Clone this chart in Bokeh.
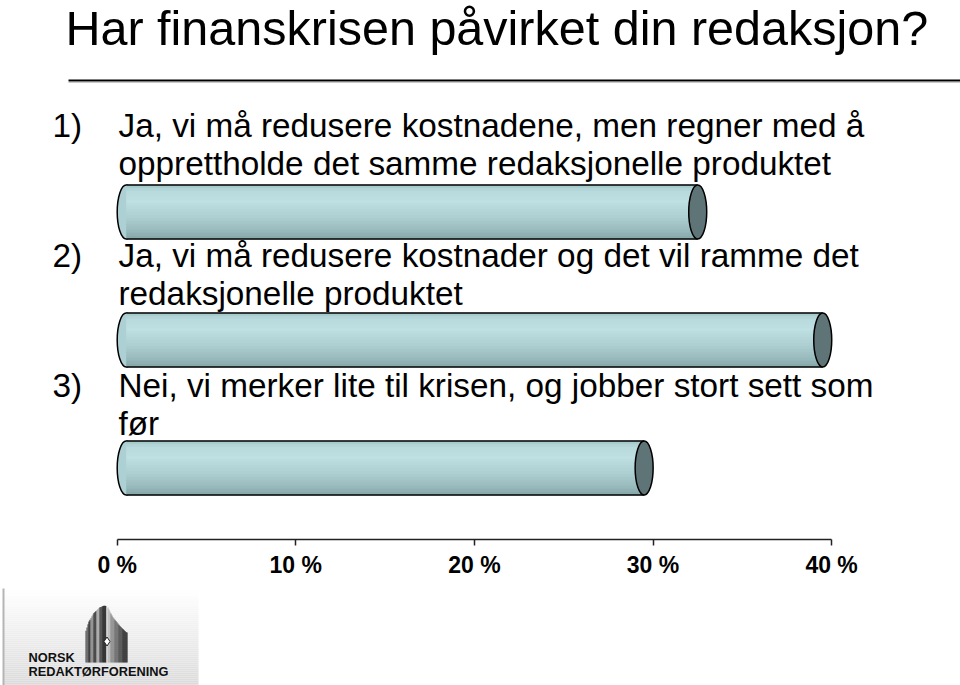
import numpy as np
from bokeh.plotting import figure
from bokeh.models import Range1d, LinearAxis, FixedTicker
from bokeh.layouts import column
from bokeh.core.properties import value
from bokeh.embed import file_html
from bokeh.resources import INLINE

# ---------------- data ----------------
title_text = "Har finanskrisen påvirket din redaksjon?"
numbers = ["1)", "2)", "3)"]
questions = [
    ["Ja, vi må redusere kostnadene, men regner med å",
     "opprettholde det samme redaksjonelle produktet"],
    ["Ja, vi må redusere kostnader og det vil ramme det",
     "redaksjonelle produktet"],
    ["Nei, vi merker lite til krisen, og jobber stort sett som",
     "før"],
]
values = [32, 39, 29]          # percent
tick_values = [0, 10, 20, 30, 40]
tick_labels = ["0 %", "10 %", "20 %", "30 %", "40 %"]
logo_lines = ["NORSK", "REDAKTØRFORENING"]

# ---------------- layout helpers ----------------
FONT = "Liberation Sans"
X0 = 116.7      # pixel of 0 %
PPU = 17.86     # pixels per percent
AXIS_Y = 539
BASE_FIX = 0.39  # baseline correction (fraction of font size)


def px2x(px):
    return (px - X0) / PPU


def by(baseline, size):
    return baseline - BASE_FIX * size


def mix(c1, c2, t):
    a = np.array([int(c1[i:i + 2], 16) for i in (1, 3, 5)], float)
    b = np.array([int(c2[i:i + 2], 16) for i in (1, 3, 5)], float)
    c = a + (b - a) * t
    return "#%02x%02x%02x" % tuple(int(round(v)) for v in c)


p = figure(width=960, height=585, output_backend="svg", toolbar_location=None,
           x_range=Range1d(px2x(0), px2x(960)), y_range=Range1d(AXIS_Y, 0),
           x_axis_type=None, y_axis_type=None,
           min_border_left=0, min_border_right=0, min_border_top=0,
           min_border_bottom=585 - AXIS_Y)
p.outline_line_color = None
p.grid.visible = False
p.background_fill_color = "white"
p.border_fill_color = "white"

# title
TS = 48.5
p.text(x=[px2x(65)], y=[by(46, TS)], text=[title_text], text_font=value(FONT),
       text_font_size=f"{TS}px", text_color="black", text_baseline="alphabetic")
p.segment(x0=[px2x(68)], y0=[80], x1=[px2x(960)], y1=[80],
          line_color="black", line_width=2)
p.segment(x0=[px2x(68)], y0=[82], x1=[px2x(960)], y1=[82],
          line_color="#c8c8c8", line_width=1)

# cylinders
H = 54
CAP_W = 18
shift = 9 / PPU
stops = [(0.0, "#a2c5c8"), (0.12, "#b8dadd"), (0.3, "#bfe0e3"),
         (0.6, "#adcfd2"), (0.85, "#98babc"), (1.0, "#86a6a8")]
NB = 18


def grad(t):
    for (t0, c0), (t1, c1) in zip(stops[:-1], stops[1:]):
        if t0 <= t <= t1:
            return mix(c0, c1, (t - t0) / (t1 - t0))
    return stops[-1][1]


for i, v in enumerate(values):
    yc = 211.5 + i * 128
    top = yc - H / 2
    p.ellipse(x=[shift], y=[yc], width=[CAP_W], height=[H], width_units="screen",
              height_units="screen", fill_color="#acd0d3", line_color="black",
              line_width=1.5)
    bh = H / NB
    ys = [top + bh * (k + 0.5) for k in range(NB)]
    cols = [grad((k + 0.5) / NB) for k in range(NB)]
    p.hbar(y=ys, height=bh + 0.3, left=shift, right=v + shift, fill_color=cols,
           line_color=None)
    p.segment(x0=[shift, shift], y0=[top, top + H], x1=[v + shift, v + shift],
              y1=[top, top + H], line_color="black", line_width=1.5)
    p.ellipse(x=[v + shift], y=[yc], width=[CAP_W], height=[H], width_units="screen",
              height_units="screen", fill_color="#5f7476", line_color="black",
              line_width=1.5)

# questions
QS = 33.3
Q_SPACING = 130
LINE_H = 38
for i, (num, lines) in enumerate(zip(numbers, questions)):
    base = 138 + i * Q_SPACING
    p.text(x=[px2x(52)], y=[by(base, QS)], text=[num], text_font=value(FONT),
           text_font_size=f"{QS}px", text_color="black", text_baseline="alphabetic")
    p.text(x=[px2x(118)] * len(lines),
           y=[by(base + k * LINE_H, QS) for k in range(len(lines))],
           text=lines, text_font=value(FONT), text_font_size=f"{QS}px",
           text_color="black", text_baseline="alphabetic")

# axis
ax = LinearAxis(ticker=FixedTicker(ticks=tick_values), bounds=(0, 40))
ax.major_label_overrides = {t: l for t, l in zip(tick_values, tick_labels)}
ax.axis_line_color = "#222222"
ax.axis_line_width = 1.5
ax.major_tick_line_color = "#222222"
ax.major_tick_line_width = 1.5
ax.major_tick_in = 0
ax.major_tick_out = 6
ax.minor_tick_line_color = None
ax.major_label_standoff = 6
ax.major_label_text_font = FONT
ax.major_label_text_font_style = "bold"
ax.major_label_text_font_size = "23px"
ax.major_label_text_color = "black"
p.add_layout(ax, "below")

# ---------------- logo ----------------
q = figure(width=960, height=100, output_backend="svg", toolbar_location=None,
           x_range=Range1d(0, 960), y_range=Range1d(685, 585),
           x_axis_type=None, y_axis_type=None, min_border=0)
q.outline_line_color = None
q.grid.visible = False

rows = np.arange(588, 685, 2)
q.hbar(y=rows + 1, height=2.2, left=3, right=198,
       fill_color=[mix("#ffffff", "#dadada", (r - 588) / 97) for r in rows],
       line_color=None)
q.segment(x0=[3], y0=[588], x1=[3], y1=[685], line_color="#b5b5b5", line_width=2)


def nib_top(x):
    pts = [(85, 632), (88, 622), (93, 613), (99, 607), (104, 605), (107, 606),
           (112, 616), (119, 625), (126, 632)]
    xs, ys = zip(*pts)
    return float(np.interp(x, xs, ys))


pattern = [(85, 87, "#4a4a4a"), (88, 89, "#111111"), (90, 92, "#7a7a7a"),
           (93, 95, "#1e1e1e"), (96, 98, "#9a9a9a"), (99, 101, "#2a2a2a"),
           (102, 105, "#000000"), (106, 106, "#ffffff"), (107, 109, "#b0b0b0"),
           (110, 113, "#7c7c7c"), (114, 117, "#555555"), (118, 121, "#333333"),
           (122, 126, "#111111")]
sx, stop, scol = [], [], []
for a, b, c in pattern:
    for x in range(a, b + 1):
        sx.append(x + 0.5)
        stop.append(nib_top(x + 0.5))
        scol.append(c)
q.vbar(x=sx, width=1.05, top=stop, bottom=662, fill_color=scol, line_color=None)
q.scatter(x=[106.5], y=[641], marker="diamond", size=9, fill_color="white",
          line_color="#222222", line_width=1)

LS = 12.8
q.text(x=[28, 28], y=[by(662, LS), by(676, LS)], text=logo_lines,
       text_font=value(FONT), text_font_style="bold", text_font_size=f"{LS}px",
       text_color="#111111", text_baseline="alphabetic")

layout = column(p, q, spacing=0)
open("out.html", "w").write(file_html(layout, INLINE))
